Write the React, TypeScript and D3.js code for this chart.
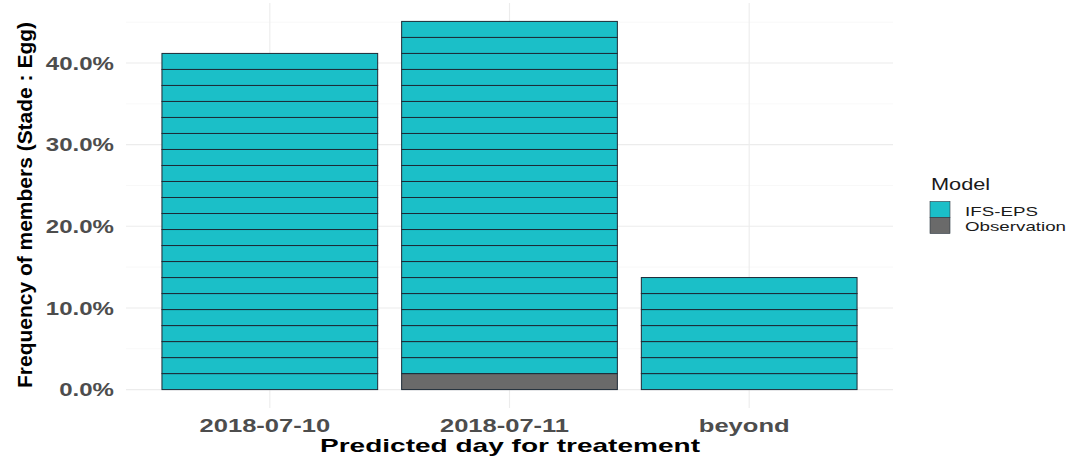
import React, { useEffect, useRef } from 'react';
import * as d3 from 'd3';

// Predicted day categories
const days = ['2018-07-10', '2018-07-11', 'beyond'];
// number of IFS-EPS members per day, and observation count
const ifsMembers = [21, 22, 7];
const obsMembers = [0, 1, 0];
const totalMembers = 51;
const yTicks = [0, 0.1, 0.2, 0.3, 0.4];
const yMinor = [0.05, 0.15, 0.25, 0.35, 0.45];
const models = ['IFS-EPS', 'Observation'];
const modelColors = ['#1bbfc8', '#6a6a6a'];

const FONT = 'Liberation Sans, Arial, sans-serif';

export default function App() {
  const ref = useRef<SVGSVGElement>(null);

  useEffect(() => {
    if (!ref.current) return;
    const svg = d3.select(ref.current);
    svg.selectAll('*').remove();

    const W = 1072, H = 457;
    const panel = { left: 126, right: 893, top: 3, bottom: 408 };

    const maxFreq = d3.max(days.map((_, i) => (ifsMembers[i] + obsMembers[i]) / totalMembers)) as number;
    const pad = maxFreq * 0.05;
    const y = d3.scaleLinear().domain([-pad, maxFreq + pad]).range([panel.bottom, panel.top]);
    // ggplot discrete axis: bar width 0.9, expand 0.6 units each side
    const x = d3.scaleLinear().domain([0.4, days.length + 0.6]).range([panel.left, panel.right]);
    const cx = (i: number) => x(i + 1);
    const bw = x(1.9) - x(1);

    svg.append('rect').attr('width', W).attr('height', H).attr('fill', '#fff');

    // stretched text helper (the reference's text is wide)
    const txt = (px: number, py: number, sx: number, s: string) =>
      svg.append('text')
        .attr('transform', `translate(${px},${py}) scale(${sx},1)`)
        .attr('font-family', FONT)
        .text(s);

    const grid = svg.append('g');
    yMinor.forEach(t => {
      grid.append('line').attr('x1', panel.left).attr('x2', panel.right)
        .attr('y1', y(t)).attr('y2', y(t)).attr('stroke', '#f4f4f4').attr('stroke-width', 0.6);
    });
    yTicks.forEach(t => {
      grid.append('line').attr('x1', panel.left).attr('x2', panel.right)
        .attr('y1', y(t)).attr('y2', y(t)).attr('stroke', '#ececec').attr('stroke-width', 1.1);
    });
    days.forEach((_, i) => {
      grid.append('line').attr('x1', cx(i)).attr('x2', cx(i))
        .attr('y1', panel.top).attr('y2', panel.bottom).attr('stroke', '#ececec').attr('stroke-width', 1.1);
    });

    // stacked member segments: observation at bottom, IFS-EPS above
    const unit = 1 / totalMembers;
    const bars = svg.append('g');
    days.forEach((d, i) => {
      const segs: number[] = [];
      for (let k = 0; k < obsMembers[i]; k++) segs.push(1);
      for (let k = 0; k < ifsMembers[i]; k++) segs.push(0);
      segs.forEach((m, k) => {
        bars.append('rect')
          .attr('x', cx(i) - bw / 2)
          .attr('width', bw)
          .attr('y', y((k + 1) * unit))
          .attr('height', y(k * unit) - y((k + 1) * unit))
          .attr('fill', modelColors[m])
          .attr('stroke', '#1d2a36')
          .attr('stroke-width', 1);
      });
    });

    // y tick labels
    const fmt = d3.format('.1%');
    yTicks.forEach(t => {
      txt(114, y(t) + 6.6, 1.3, fmt(t))
        .attr('text-anchor', 'end').attr('font-weight', 'bold')
        .attr('font-size', 18.5).attr('fill', '#4d4d4d');
    });

    // x tick labels
    days.forEach((d, i) => {
      txt(cx(i) - 5, 432, 1.38, d)
        .attr('text-anchor', 'middle').attr('font-weight', 'bold')
        .attr('font-size', 18.5).attr('fill', '#4d4d4d');
    });

    // axis titles
    svg.append('text').attr('x', 510).attr('y', 452)
      .attr('text-anchor', 'middle').attr('font-family', FONT)
      .attr('font-weight', 'bold').attr('font-size', 19).attr('fill', '#000')
      .attr('textLength', 380).attr('lengthAdjust', 'spacingAndGlyphs')
      .text('Predicted day for treatement');

    svg.append('text')
      .attr('transform', `translate(32,205) rotate(-90)`)
      .attr('text-anchor', 'middle').attr('font-family', FONT)
      .attr('font-weight', 'bold').attr('font-size', 19.5).attr('fill', '#000')
      .attr('textLength', 366).attr('lengthAdjust', 'spacingAndGlyphs')
      .text('Frequency of members (Stade : Egg)');

    // legend
    txt(931, 190, 1.36, 'Model').attr('font-size', 16).attr('fill', '#1a1a1a');
    models.forEach((m, i) => {
      svg.append('rect').attr('x', 930).attr('y', 201.5 + i * 16).attr('width', 20).attr('height', 16)
        .attr('fill', modelColors[i]).attr('stroke', '#2a3640').attr('stroke-width', 0.6);
      txt(965, 216 + i * 15, 1.42, m).attr('font-size', 13.2).attr('fill', '#1a1a1a');
    });
  }, []);

  return (
    <svg ref={ref} width={1072} height={457} style={{ position: 'absolute', left: 0, top: 0, display: 'block' }} />
  );
}
